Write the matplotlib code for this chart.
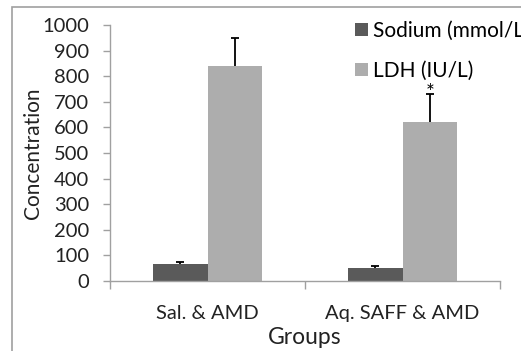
import numpy as np
import matplotlib.pyplot as plt
from matplotlib.patches import Rectangle

plt.rcParams['font.family'] = ['Lato', 'DejaVu Sans']

groups = ['Sal. & AMD', 'Aq. SAFF & AMD']
sodium = [65, 50]
sodium_err = [10, 8]
ldh = [840, 620]
ldh_err = [110, 110]
yticks = [0, 100, 200, 300, 400, 500, 600, 700, 800, 900, 1000]

W, H = 521, 351
fig = plt.figure(figsize=(W / 100, H / 100), dpi=100)

# outer frame of the chart area
fig.patches.append(Rectangle((12 / W, -0.1), 1.2, 1.1 - 7 / H, transform=fig.transFigure,
                             fill=False, edgecolor='#a0a0a0', linewidth=1.2))

ax = fig.add_axes([110 / W, 70 / H, 390 / W, 256 / H])

x = np.arange(len(groups))
bw = 0.282
b1 = ax.bar(x - bw / 2, sodium, bw, color='#5a5a5a', label='Sodium (mmol/L)')
b2 = ax.bar(x + bw / 2, ldh, bw, color='#adadad', label='LDH (IU/L)')

# upper-only error bars
cap = 0.023
for xs, vals, errs in [(x - bw / 2, sodium, sodium_err), (x + bw / 2, ldh, ldh_err)]:
    tops = np.array(vals) + np.array(errs)
    ax.vlines(xs, vals, tops, color='black', linewidth=1.3)
    ax.hlines(tops, xs - cap, xs + cap, color='black', linewidth=1.3)

# significance mark over the treated group
ax.annotate('*', (x[1] + bw / 2, ldh[1] + ldh_err[1]), xytext=(0, -6.5),
            textcoords='offset points', ha='center', va='bottom', fontsize=15)

ax.set_xlim(-0.5, 1.5)
ax.set_ylim(0, 1000)
ax.set_yticks(yticks)
ax.set_xticks([-0.5, 0.5, 1.5], minor=True)
ax.set_xticks(x)
ax.set_xticklabels(groups)
ax.tick_params(axis='x', which='major', length=0, pad=17, labelsize=14.5, colors='#222222')
ax.tick_params(axis='x', which='minor', length=6, color='#a0a0a0', width=1)
ax.tick_params(axis='y', length=5, color='#a0a0a0', width=1, pad=10, labelsize=14.5,
               labelcolor='#222222')
for s in ['top', 'right']:
    ax.spines[s].set_visible(False)
for s in ['left', 'bottom']:
    ax.spines[s].set_color('#a0a0a0')
    ax.spines[s].set_linewidth(1)

ax.set_ylabel('Concentration', fontsize=15, color='#222222')
ax.set_xlabel('Groups', fontsize=16.5, color='#222222')
ax.yaxis.set_label_coords(-0.172, 0.5)
ax.xaxis.set_label_coords(0.5, -0.178)

ax.legend(handles=[b1, b2], loc='upper left', bbox_to_anchor=(355 / W, 1 - 21 / H),
          bbox_transform=fig.transFigure, frameon=False, fontsize=15,
          handlelength=0.6, handleheight=0.6, handletextpad=0.25, labelspacing=0.95,
          borderpad=0, borderaxespad=0)

fig.savefig('out.png', dpi=100)
